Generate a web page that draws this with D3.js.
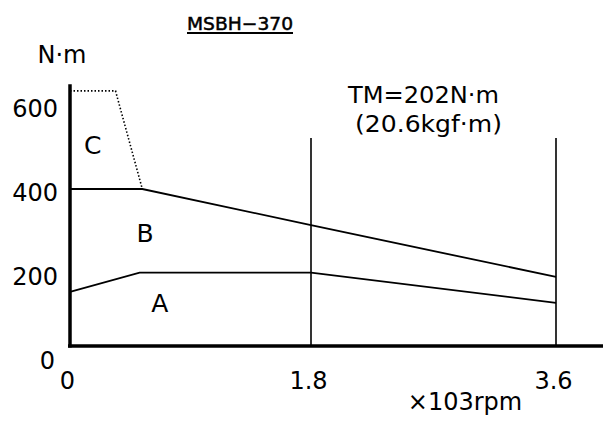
<!DOCTYPE html>
<html>
<head>
<meta charset="utf-8">
<script src="https://cdn.jsdelivr.net/npm/d3@7"></script>
<style>
    body { margin: 0; background: #fff; }
    svg text { font-family: "DejaVu Sans", sans-serif; fill: #000; }
</style>
</head>
<body>
<div id="chart"></div>
<script>
// Torque / speed characteristic, MSBH-370

const speedTicks = [0, 1.8, 3.6];           // x 10^3 rpm
const torqueTicks = [0, 200, 400, 600];     // N·m

// region A (continuous) boundary
const regionA = [
    { rpm: 0, torque: 138 },
    { rpm: 0.52, torque: 187 },
    { rpm: 1.8, torque: 187 },
    { rpm: 3.6, torque: 110 }
];

// region B (acc/dec) boundary
const regionB = [
    { rpm: 0, torque: 400 },
    { rpm: 0.54, torque: 400 },
    { rpm: 1.8, torque: 308 },
    { rpm: 3.6, torque: 176 }
];

// region C (instantaneous, dotted)
const regionC = [
    { rpm: 0, torque: 650 },
    { rpm: 0.34, torque: 650 },
    { rpm: 0.54, torque: 400 }
];

// speed limit lines
const limitSpeeds = [1.8, 3.6];
const limitTorque = 530;

const regionLabels = [
    { label: 'C', rpm: 0.17, torque: 512 },
    { label: 'B', rpm: 0.56, torque: 288 },
    { label: 'A', rpm: 0.67, torque: 110 }
];

function drawChart(containerId) {
    const width = 603;
    const height = 427;

    const svg = d3.select(`#${containerId}`)
        .append('svg')
        .attr('width', width)
        .attr('height', height);

    // scales (drawing is not quite linear in x)
    const x = d3.scaleLinear()
        .domain([0, 1.8, 3.6])
        .range([70, 311, 556]);

    const y = d3.scaleLinear()
        .domain([0, 600])
        .range([346, 110.5]);

    // label positions sit a little off the lines in the original
    const yLabel = d3.scaleLinear()
        .domain([0, 600])
        .range([360, 108]);

    const line = d3.line()
        .x(d => x(d.rpm))
        .y(d => y(d.torque));

    // limit lines
    svg.selectAll('.limit')
        .data(limitSpeeds)
        .enter()
        .append('line')
        .attr('x1', d => x(d))
        .attr('x2', d => x(d))
        .attr('y1', y(0))
        .attr('y2', y(limitTorque))
        .style('stroke', '#000')
        .style('stroke-width', 1.6);

    svg.append('path')
        .datum(regionA)
        .attr('d', line)
        .style('fill', 'none')
        .style('stroke', '#000')
        .style('stroke-width', 1.8);

    svg.append('path')
        .datum(regionB)
        .attr('d', line)
        .style('fill', 'none')
        .style('stroke', '#000')
        .style('stroke-width', 1.8);

    svg.append('path')
        .datum(regionC)
        .attr('d', line)
        .style('fill', 'none')
        .style('stroke', '#000')
        .style('stroke-width', 1.6)
        .style('stroke-dasharray', '1.5,2');

    // axes lines
    svg.append('line')
        .attr('x1', x(0) - 2).attr('x2', width)
        .attr('y1', y(0)).attr('y2', y(0))
        .style('stroke', '#000')
        .style('stroke-width', 3.5);

    svg.append('line')
        .attr('x1', x(0)).attr('x2', x(0))
        .attr('y1', y(0) + 1.5).attr('y2', y(667))
        .style('stroke', '#000')
        .style('stroke-width', 3.5);

    // y tick labels
    const yAxis = svg.append('g')
        .attr('transform', 'translate(58,0)')
        .call(d3.axisLeft(yLabel)
            .tickValues(torqueTicks)
            .tickSize(0)
            .tickPadding(0)
            .tickFormat(d3.format('d')));
    yAxis.select('.domain').remove();
    yAxis.selectAll('text')
        .attr('dy', '0.36em')
        .attr('x', d => d === 0 ? -3 : 0)
        .style('font-family', '"DejaVu Sans", sans-serif')
        .style('font-size', '24px');

    // x tick labels
    const xAxis = svg.append('g')
        .attr('transform', 'translate(-3,389)')
        .call(d3.axisBottom(x)
            .tickValues(speedTicks)
            .tickSize(0)
            .tickPadding(0)
            .tickFormat(d => d === 0 ? '0' : d3.format('.1f')(d)));
    xAxis.select('.domain').remove();
    xAxis.selectAll('text')
        .attr('y', 0)
        .attr('dy', 0)
        .style('font-family', '"DejaVu Sans", sans-serif')
        .style('font-size', '24px');

    // region labels
    svg.selectAll('.region-label')
        .data(regionLabels)
        .enter()
        .append('text')
        .attr('x', d => x(d.rpm))
        .attr('y', d => y(d.torque))
        .attr('dy', '0.36em')
        .style('text-anchor', 'middle')
        .style('font-size', '25px')
        .text(d => d.label);

    // units
    svg.append('text')
        .attr('x', 62)
        .attr('y', 63)
        .style('text-anchor', 'middle')
        .style('font-size', '24px')
        .text('N·m');

    svg.append('text')
        .attr('x', 465)
        .attr('y', 410)
        .style('text-anchor', 'middle')
        .style('font-size', '24px')
        .text('×103rpm');

    // title
    svg.append('text')
        .attr('x', 187)
        .attr('y', 30)
        .attr('textLength', 106)
        .attr('lengthAdjust', 'spacingAndGlyphs')
        .style('font-size', '18px')
        .style('stroke', '#000')
        .style('stroke-width', 0.5)
        .text('MSBH−370');

    svg.append('line')
        .attr('x1', 187).attr('x2', 293)
        .attr('y1', 33).attr('y2', 33)
        .style('stroke', '#000')
        .style('stroke-width', 1.8);

    // rated torque note
    svg.append('text')
        .attr('x', 348)
        .attr('y', 103)
        .attr('textLength', 151)
        .attr('lengthAdjust', 'spacingAndGlyphs')
        .style('font-size', '23px')
        .text('TM=202N·m');

    svg.append('text')
        .attr('x', 355)
        .attr('y', 132)
        .attr('textLength', 147)
        .attr('lengthAdjust', 'spacingAndGlyphs')
        .style('font-size', '23px')
        .text('(20.6kgf·m)');
}

drawChart('chart');
</script>
</body>
</html>
